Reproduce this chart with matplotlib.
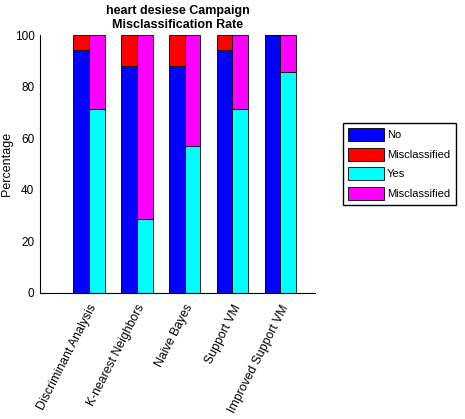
import numpy as np
import matplotlib.pyplot as plt
from matplotlib.patches import Patch

plt.rcParams['font.family'] = ['Liberation Sans', 'DejaVu Sans']

methods = ['Discriminant Analysis', 'K-nearest Neighbors', 'Naive Bayes',
           'Support VM', 'Improved Support VM']
no_ok = [94.1, 88.2, 88.2, 94.1, 100.0]
yes_ok = [71.4, 28.6, 57.1, 71.4, 85.7]
no_bad = [100 - v for v in no_ok]
yes_bad = [100 - v for v in yes_ok]

x = np.arange(1, len(methods) + 1)
w = 0.33

fig = plt.figure(figsize=(4.65, 4.19), dpi=100)
ax = fig.add_axes([0.086, 0.301, 0.591, 0.615])

ax.bar(x - w / 2, no_ok, w, color='#0000ff', edgecolor='black', linewidth=0.6)
ax.bar(x - w / 2, no_bad, w, bottom=no_ok, color='#ff0000', edgecolor='black', linewidth=0.6)
ax.bar(x + w / 2, yes_ok, w, color='#00ffff', edgecolor='black', linewidth=0.6)
ax.bar(x + w / 2, yes_bad, w, bottom=yes_ok, color='#ff00ff', edgecolor='black', linewidth=0.6)

ax.set_xlim(-0.02, 5.72)
ax.set_ylim(0, 100)
ax.set_yticks([0, 20, 40, 60, 80, 100])
ax.tick_params(axis='y', labelsize=8.5, length=0, pad=4)
ax.set_xticks(x)
ax.set_xticklabels(methods, rotation=63, ha='right', rotation_mode='anchor', fontsize=8.8)
ax.tick_params(axis='x', length=0, pad=7)
for s in ['top', 'right']:
    ax.spines[s].set_visible(False)
ax.set_ylabel('Percentage', fontsize=9)
ax.yaxis.set_label_coords(-0.098, 0.5)
ax.set_title('heart desiese Campaign\nMisclassification Rate', fontsize=9,
             fontweight='bold', linespacing=1.25, pad=5)

handles = [Patch(facecolor='#0000ff', edgecolor='black', linewidth=0.6),
           Patch(facecolor='#ff0000', edgecolor='black', linewidth=0.6),
           Patch(facecolor='#00ffff', edgecolor='black', linewidth=0.6),
           Patch(facecolor='#ff00ff', edgecolor='black', linewidth=0.6)]
fig.legend(handles, ['No', 'Misclassified', 'Yes', 'Misclassified'],
           loc='upper left', bbox_to_anchor=(0.737, 0.707), fontsize=8,
           fancybox=False, edgecolor='black', framealpha=1,
           handlelength=3.2, handleheight=1.4, handletextpad=0.3,
           labelspacing=0.6, borderpad=0.5, borderaxespad=0)

fig.savefig('out.png', dpi=100)
